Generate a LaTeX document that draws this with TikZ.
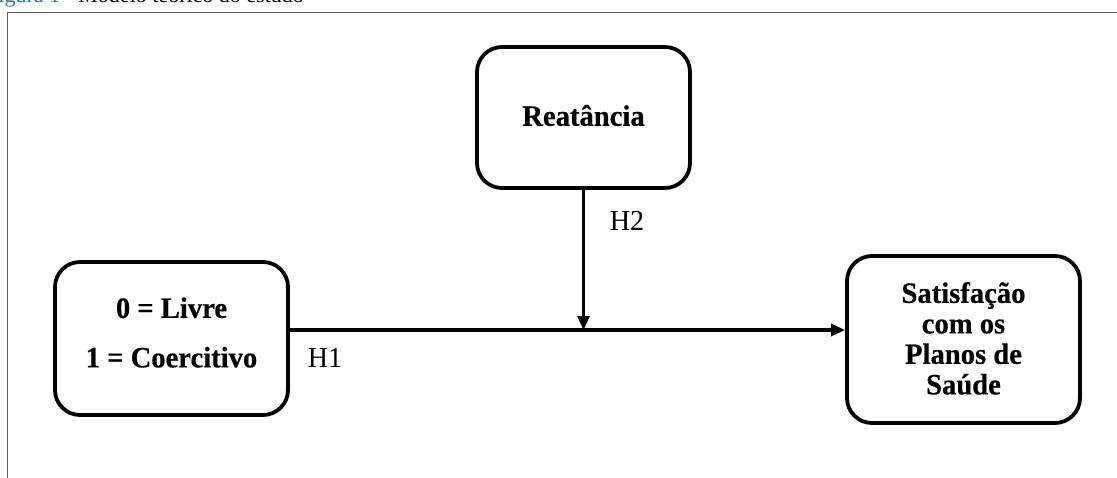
\documentclass[tikz,border=0pt]{standalone}
\usepackage{fontspec}
\setmainfont{Liberation Serif}
\newfontfamily\labelfont[FakeStretch=0.97,BoldFeatures={FakeBold=0.5}]{Liberation Serif}
\newfontfamily\capfont{Liberation Serif}
\usetikzlibrary{arrows.meta}
\definecolor{capblue}{RGB}{46,116,181}
\definecolor{framegray}{RGB}{95,95,95}

\begin{document}
\begin{tikzpicture}[x=1pt,y=-1pt,
  varbox/.style={draw=black, line width=3.8pt, rounded corners=25pt, align=center,
    inner sep=0pt, font=\labelfont\bfseries\fontsize{29.5}{30.5}\selectfont},
  hyplabel/.style={font=\labelfont\fontsize{29}{30}\selectfont, inner sep=0pt},
  link/.style={line width=3.2pt, -{Triangle[length=14pt,width=12pt]}}]
\useasboundingbox (0,0) rectangle (1117,477);
\clip (0,0) rectangle (1117,477);

% frame of the figure and its caption
\draw[framegray, line width=1.3pt] (7.5,520) |- (1140,12.5);
\node[anchor=base west, inner sep=0pt, font=\capfont\fontsize{22}{25}\selectfont] (caption) at (-14,2.5)
  {\textcolor{capblue}{Figura 1} - Modelo teórico do estudo};

% variables
\node[varbox, minimum width=213pt, minimum height=141pt] (reat) at (583.5,117.5)
  {\raisebox{2pt}[\height][\depth]{Reatância}};
\node[varbox, minimum width=233pt, minimum height=153pt] (iv) at (171.5,338.5)
  {\raisebox{2pt}[\height][\depth]{\begin{tabular}{@{}c@{}}0 = Livre\\[19pt]1 = Coercitivo\end{tabular}}};
\node[varbox, minimum width=233pt, minimum height=167pt] (dv) at (963.5,339.5)
  {\raisebox{-3pt}[\height][\depth]{\begin{tabular}{@{}c@{}}Satisfação\\com os\\Planos de\\Saúde\end{tabular}}};

% paths
\coordinate (mod) at (583.5,330);
\draw[link] (iv.east |- mod) -- (dv.west |- mod);
\draw[link] (reat.south) -- (mod);

% hypothesis labels
\node[hyplabel] (h2) at (627,221) {H2};
\node[hyplabel] (h1) at (325,358) {H1};
\end{tikzpicture}
\end{document}
